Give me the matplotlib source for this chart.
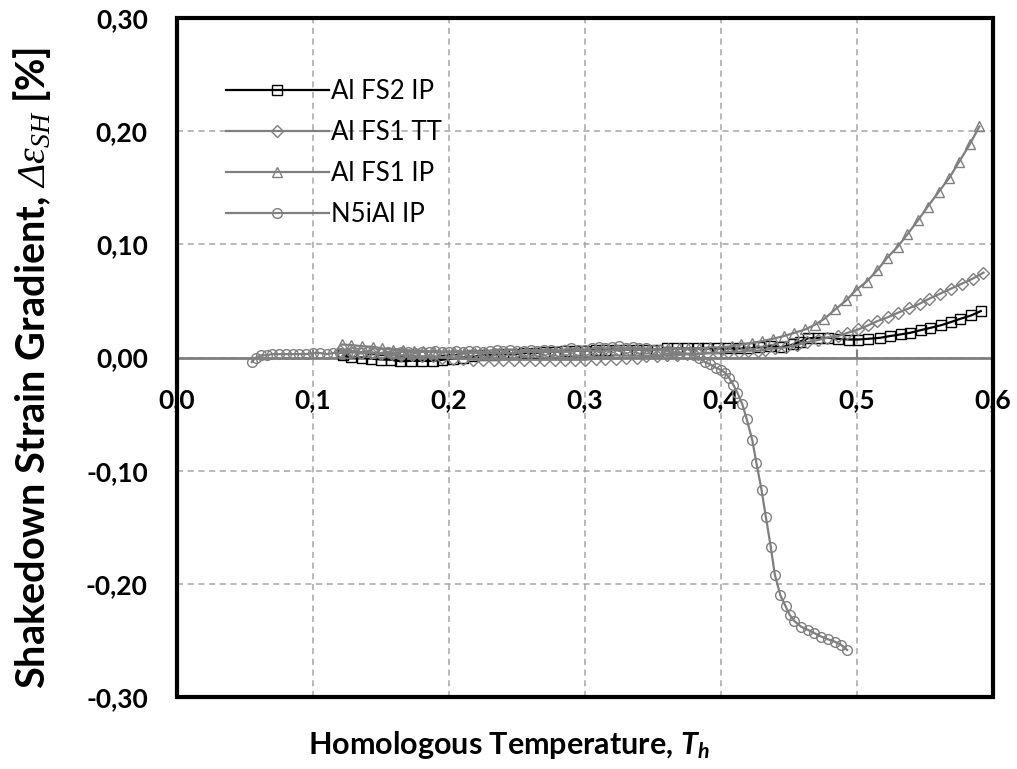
import numpy as np
import matplotlib
matplotlib.use("Agg")
import matplotlib.pyplot as plt
from matplotlib.patches import Rectangle
from matplotlib.ticker import FuncFormatter

plt.rcParams['font.family'] = ['Lato', 'DejaVu Sans']
plt.rcParams['mathtext.fontset'] = 'custom'
plt.rcParams['mathtext.rm'] = 'Liberation Serif'
plt.rcParams['mathtext.it'] = 'Liberation Serif:italic'
plt.rcParams['mathtext.bf'] = 'Liberation Serif:bold'
plt.rcParams['mathtext.bfit'] = 'Liberation Serif:italic'
plt.rcParams['mathtext.sf'] = 'Lato:bold:italic'

# Al FS2 IP (black squares)
fs2_ip_x = [0.122, 0.128, 0.136, 0.143, 0.150, 0.157, 0.164, 0.172, 0.180, 0.188, 0.195,
            0.203, 0.210, 0.218, 0.225, 0.233, 0.240, 0.248, 0.255, 0.263, 0.270, 0.278,
            0.285, 0.293, 0.300, 0.308, 0.315, 0.323, 0.330, 0.338, 0.345, 0.353, 0.360,
            0.368, 0.375, 0.383, 0.390, 0.398, 0.405, 0.413, 0.420, 0.428, 0.436, 0.444,
            0.453, 0.458, 0.464, 0.471, 0.479, 0.486, 0.494, 0.501, 0.508, 0.517, 0.524,
            0.532, 0.539, 0.547, 0.554, 0.562, 0.569, 0.576, 0.584, 0.591]
fs2_ip_y = [0.002, 0.0003, 0.000, -0.001, -0.0018, -0.002, -0.0033, -0.003, -0.003, -0.003, -0.002,
            -0.001, 0.000, 0.001, 0.002, 0.002, 0.003, 0.003, 0.004, 0.004, 0.005, 0.005,
            0.006, 0.006, 0.006, 0.007, 0.007, 0.007, 0.007, 0.007, 0.007, 0.007, 0.008,
            0.008, 0.008, 0.008, 0.008, 0.008, 0.008, 0.008, 0.008, 0.009, 0.010, 0.009,
            0.0115, 0.014, 0.017, 0.0174, 0.0174, 0.0165, 0.0159, 0.0159, 0.0165, 0.0174, 0.0189,
            0.0204, 0.0218, 0.0242, 0.0262, 0.0286, 0.0313, 0.0342, 0.0372, 0.041]

# Al FS1 TT (grey diamonds)
fs1_tt_x = [0.120, 0.128, 0.135, 0.143, 0.150, 0.158, 0.165, 0.173, 0.180, 0.188, 0.195,
            0.203, 0.210, 0.218, 0.225, 0.233, 0.240, 0.248, 0.255, 0.263, 0.270, 0.278,
            0.285, 0.293, 0.300, 0.308, 0.315, 0.323, 0.330, 0.338, 0.345, 0.353, 0.360,
            0.368, 0.375, 0.383, 0.390, 0.398, 0.405, 0.413, 0.420, 0.427, 0.432, 0.440,
            0.448, 0.456, 0.463, 0.471, 0.478, 0.486, 0.493, 0.501, 0.508, 0.515, 0.523,
            0.530, 0.538, 0.546, 0.553, 0.561, 0.569, 0.577, 0.585, 0.593]
fs1_tt_y = [0.006, 0.005, 0.004, 0.004, 0.003, 0.003, 0.002, 0.002, 0.001, 0.001, 0.000,
            -0.001, -0.001, -0.002, -0.002, -0.002, -0.002, -0.002, -0.002, -0.002, -0.002, -0.002,
            -0.002, -0.002, -0.002, -0.001, -0.001, -0.001, 0.000, 0.000, 0.001, 0.001, 0.002,
            0.002, 0.003, 0.003, 0.004, 0.004, 0.005, 0.005, 0.006, 0.006, 0.007, 0.008,
            0.009, 0.011, 0.0135, 0.0153, 0.0174, 0.0189, 0.0218, 0.0248, 0.0283, 0.0322, 0.0357,
            0.0395, 0.0434, 0.0475, 0.0519, 0.0564, 0.0608, 0.0652, 0.0696, 0.075]

# Al FS1 IP (grey triangles)
fs1_ip_x = [0.121, 0.128, 0.136, 0.144, 0.151, 0.159, 0.166, 0.174, 0.181, 0.189, 0.196,
            0.204, 0.211, 0.219, 0.226, 0.234, 0.241, 0.249, 0.256, 0.264, 0.271, 0.279,
            0.286, 0.294, 0.301, 0.309, 0.316, 0.324, 0.331, 0.339, 0.346, 0.354, 0.361,
            0.369, 0.376, 0.384, 0.392, 0.400, 0.408, 0.415, 0.423, 0.430, 0.438, 0.446,
            0.454, 0.462, 0.469, 0.476, 0.484, 0.492, 0.499, 0.507, 0.515, 0.522, 0.530,
            0.537, 0.545, 0.552, 0.560, 0.568, 0.575, 0.583, 0.590]
fs1_ip_y = [0.0115, 0.011, 0.010, 0.0095, 0.008, 0.007, 0.007, 0.006, 0.006, 0.005, 0.005,
            0.005, 0.004, 0.004, 0.004, 0.004, 0.004, 0.004, 0.005, 0.005, 0.005, 0.005,
            0.005, 0.006, 0.006, 0.006, 0.006, 0.007, 0.007, 0.007, 0.007, 0.007, 0.008,
            0.008, 0.008, 0.008, 0.009, 0.009, 0.010, 0.0115, 0.013, 0.0144, 0.0165, 0.0189,
            0.0218, 0.0248, 0.029, 0.0342, 0.0425, 0.0504, 0.0593, 0.067, 0.0773, 0.0879, 0.098,
            0.1088, 0.1215, 0.1333, 0.1463, 0.159, 0.1728, 0.1885, 0.2042]

# N5iAl IP (grey circles)
n5ial_x = [0.055, 0.058, 0.062, 0.066, 0.070, 0.075, 0.080, 0.085, 0.090, 0.095, 0.100,
           0.105, 0.110, 0.115, 0.120, 0.125, 0.130, 0.135, 0.140, 0.145, 0.150, 0.155,
           0.160, 0.165, 0.170, 0.175, 0.180, 0.185, 0.190, 0.195, 0.200, 0.205, 0.210,
           0.215, 0.220, 0.225, 0.230, 0.235, 0.240, 0.245, 0.250, 0.255, 0.260, 0.265,
           0.270, 0.275, 0.280, 0.285, 0.290, 0.295, 0.300, 0.305, 0.310, 0.315, 0.320,
           0.325, 0.330, 0.335, 0.340, 0.345, 0.350, 0.355, 0.360, 0.365, 0.370, 0.375,
           0.380, 0.384, 0.388, 0.392, 0.396, 0.400, 0.403, 0.406, 0.409, 0.412, 0.4156,
           0.4188, 0.423, 0.426, 0.4298, 0.433, 0.4366, 0.4396, 0.4437, 0.4476, 0.4505, 0.454,
           0.459, 0.464, 0.4687, 0.4737, 0.4786, 0.4835, 0.4884, 0.4927]
n5ial_y = [-0.004, 0.000, 0.002, 0.002, 0.003, 0.003, 0.003, 0.003, 0.003, 0.003, 0.004,
           0.004, 0.003, 0.004, 0.004, 0.004, 0.005, 0.004, 0.005, 0.004, 0.004, 0.005,
           0.004, 0.005, 0.005, 0.004, 0.005, 0.005, 0.006, 0.005, 0.005, 0.006, 0.005,
           0.006, 0.006, 0.005, 0.006, 0.007, 0.006, 0.007, 0.006, 0.006, 0.007, 0.006,
           0.007, 0.007, 0.006, 0.007, 0.008, 0.007, 0.007, 0.008, 0.009, 0.008, 0.009,
           0.010, 0.008, 0.009, 0.008, 0.008, 0.007, 0.007, 0.006, 0.005, 0.004, 0.003,
           0.002, 0.000, -0.004, -0.006, -0.009, -0.011, -0.0135, -0.018, -0.024, -0.031, -0.041,
           -0.054, -0.073, -0.093, -0.117, -0.141, -0.1675, -0.192, -0.2103, -0.220, -0.2274, -0.233,
           -0.238, -0.2407, -0.2436, -0.2466, -0.249, -0.251, -0.254, -0.2584]

x_ticks = [0.0, 0.1, 0.2, 0.3, 0.4, 0.5, 0.6]
y_ticks = [-0.30, -0.20, -0.10, 0.00, 0.10, 0.20, 0.30]

grey = '#7f7f7f'

fig = plt.figure(figsize=(10.17, 7.69), dpi=100)
ax = fig.add_axes([177/1017, 1 - 697/769, (993 - 177)/1017, (697 - 18)/769])

ax.plot(fs2_ip_x, fs2_ip_y, color='black', lw=1.6, marker='s', ms=6.5,
        mfc='none', mec='black', mew=1.0, label='Al FS2 IP')
ax.plot(fs1_tt_x, fs1_tt_y, color=grey, lw=1.6, marker='D', ms=6,
        mfc='none', mec=grey, mew=1.0, label='Al FS1 TT')
ax.plot(fs1_ip_x, fs1_ip_y, color=grey, lw=1.6, marker='^', ms=7,
        mfc='none', mec=grey, mew=1.0, label='Al FS1 IP')
ax.plot(n5ial_x, n5ial_y, color=grey, lw=1.6, marker='o', ms=7,
        mfc='none', mec=grey, mew=1.0, label='N5iAl IP')

ax.set_xlim(0, 0.6)
ax.set_ylim(-0.30, 0.30)
ax.set_xticks(x_ticks)
ax.set_yticks(y_ticks)
ax.xaxis.set_major_formatter(FuncFormatter(lambda v, p: f"{v:.1f}".replace('.', ',')))
ax.yaxis.set_major_formatter(FuncFormatter(lambda v, p: f"{v:.2f}".replace('.', ',').replace('-0,00', '0,00')))

ax.grid(True, color='#a6a6a6', ls=(0, (4, 3)), lw=1.1)
ax.set_axisbelow(True)

ax.spines['bottom'].set_position(('data', 0))
ax.spines['bottom'].set_color(grey)
ax.spines['bottom'].set_linewidth(2)
ax.spines['bottom'].set_zorder(1.5)
for s in ['top', 'right', 'left']:
    ax.spines[s].set_visible(False)
ax.tick_params(axis='x', direction='in', length=6, width=1.5, color=grey, pad=22, labelsize=19)
ax.tick_params(axis='y', length=0, pad=21, labelsize=19)
for lab in ax.get_xticklabels() + ax.get_yticklabels():
    lab.set_fontweight('bold')

ax.add_patch(Rectangle((0, 0), 1, 1, transform=ax.transAxes, fill=False,
                       ec='black', lw=3, clip_on=False, zorder=5))

leg = ax.legend(loc='upper left', bbox_to_anchor=(226/1017, 1 - 79/769),
                bbox_transform=fig.transFigure, frameon=False, fontsize=18.5,
                handlelength=4.0, handletextpad=0.1, labelspacing=0.62,
                borderpad=0, borderaxespad=0)

fig.text(509/1017, 1 - 745/769, "Homologous Temperature, " + r"$\mathsf{T_h}$",
         ha='center', va='center', fontsize=22, fontweight='bold')
fig.text(32/1017, 1 - 368/769,
         "Shakedown Strain Gradient, " + r"$\mathbfit{\Delta\varepsilon_{SH}}$ [%]",
         ha='center', va='center', rotation=90, fontsize=28.5, fontweight='bold')

fig.savefig('out.png', dpi=100)
